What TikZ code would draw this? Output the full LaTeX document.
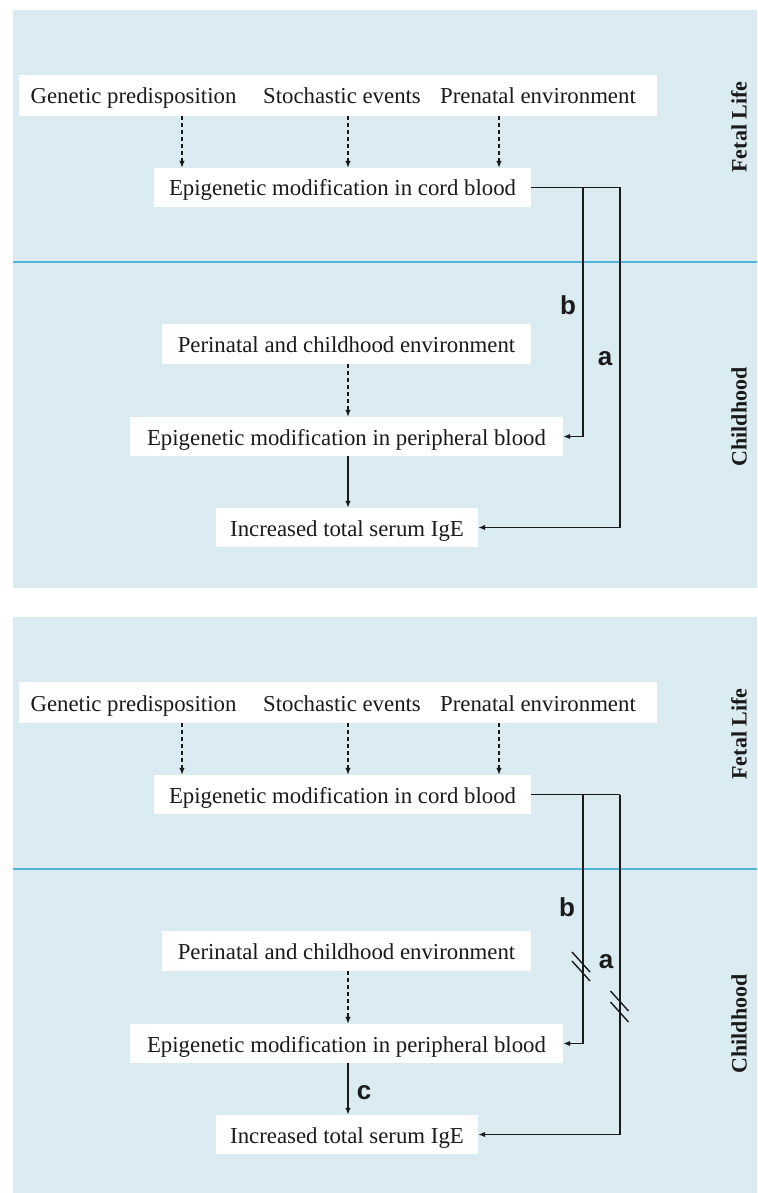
\documentclass[tikz,border=0pt]{standalone}
\usepackage{fontspec}
\setmainfont{Liberation Serif}
\newfontfamily\labfont{Liberation Sans}
\usetikzlibrary{arrows.meta}
\definecolor{panelbg}{HTML}{DAEBF2}
\definecolor{divline}{HTML}{4DB6DA}
\definecolor{ink}{HTML}{1A1A1A}
\newcommand\panelbody[4]{%
  \fill[panelbg] (13,10) rectangle (757,588);
  \draw[divline, line width=1.6pt] (13,262) -- (757,262);
  \node[rowbox, minimum width=638pt, minimum height=41pt] (row) at (338,95.5) {};
  \node[txt] (gen) at (133.5,104) {Genetic predisposition};
  \node[txt] (sto) at (342,104) {Stochastic events};
  \node[txt] (pre) at (538,104) {Prenatal environment};
  \node[box, minimum width=377pt, minimum height=39pt] (cord) at (342.5,187.5) {Epigenetic modification in cord blood};
  \node[box, minimum width=369pt, minimum height=40pt] (peri) at (346.5,344) {Perinatal and childhood environment};
  \node[box, minimum width=433pt, minimum height=39pt] (perb) at (346.5,436.5) {Epigenetic modification in peripheral blood};
  \node[box, minimum width=262pt, minimum height=39pt] (ige) at (347,527.5) {Increased total serum IgE};
  \node[side] (fetal) at (739,127) {Fetal Life};
  \node[side] (child) at (739,417) {Childhood};
  \coordinate (xg) at (182,0);
  \coordinate (xs) at (348,0);
  \coordinate (xp) at (499,0);
  \coordinate (jb) at (583,187.5);
  \coordinate (ja) at (620,187.5);
  \draw[dconn] (row.south -| xg) -- (cord.north -| xg);
  \draw[dconn] (row.south -| xs) -- (cord.north -| xs);
  \draw[dconn] (row.south -| xp) -- (cord.north -| xp);
  \draw[dconn] (peri.south -| xs) -- (perb.north -| xs);
  \draw[conn] (perb.south -| xs) -- (ige.north -| xs);
  \draw[wire] (cord.east) -- (ja);
  \draw[conn] (jb) |- (perb.east);
  \draw[conn] (ja) |- (ige.east);
  \node[lab] (lb) at (#1,#2) {b};
  \node[lab] (la) at (#3,#4) {a};
}
\begin{document}
\begin{tikzpicture}[x=1pt,y=-1pt,
  rowbox/.style={fill=white, draw=none, inner sep=0pt},
  box/.style={fill=white, inner sep=0pt, text height=19pt, text depth=2pt,
    font=\fontsize{22.8}{27}\selectfont, text=ink},
  txt/.style={inner sep=0pt, anchor=base, font=\fontsize{22.8}{27}\selectfont, text=ink},
  side/.style={rotate=90, inner sep=0pt, font=\fontsize{22}{26}\selectfont\bfseries, text=ink},
  lab/.style={inner sep=0pt, font=\labfont\fontsize{26}{30}\selectfont\bfseries, text=ink},
  conn/.style={draw=ink, line width=1.5pt, -{Latex[length=7pt,width=5.5pt]}},
  dconn/.style={conn, dash pattern=on 4pt off 3pt, line width=1.2pt},
  wire/.style={draw=ink, line width=1.5pt},
  hatch/.style={draw=ink, line width=1.4pt}
]
\useasboundingbox[fill=white] (0,0) rectangle (757,1193);
\begin{scope}[name prefix=p1-]
  \panelbody{568}{305}{605}{359}
\end{scope}
\begin{scope}[shift={(0,607)}, name prefix=p2-]
  \panelbody{567}{300}{606}{355}
  \node[lab] (lc) at (364,486) {c};
  \coordinate (hb) at (581,359);
  \coordinate (ha) at (619.5,399);
  \draw[hatch] ([shift={(-9,-14)}]hb) -- ([shift={(9,6)}]hb);
  \draw[hatch] ([shift={(-9,-5)}]hb) -- ([shift={(9,15)}]hb);
  \draw[hatch] ([shift={(-9,-15)}]ha) -- ([shift={(9,5)}]ha);
  \draw[hatch] ([shift={(-9,-4)}]ha) -- ([shift={(9,16)}]ha);
\end{scope}
\end{tikzpicture}
\end{document}
